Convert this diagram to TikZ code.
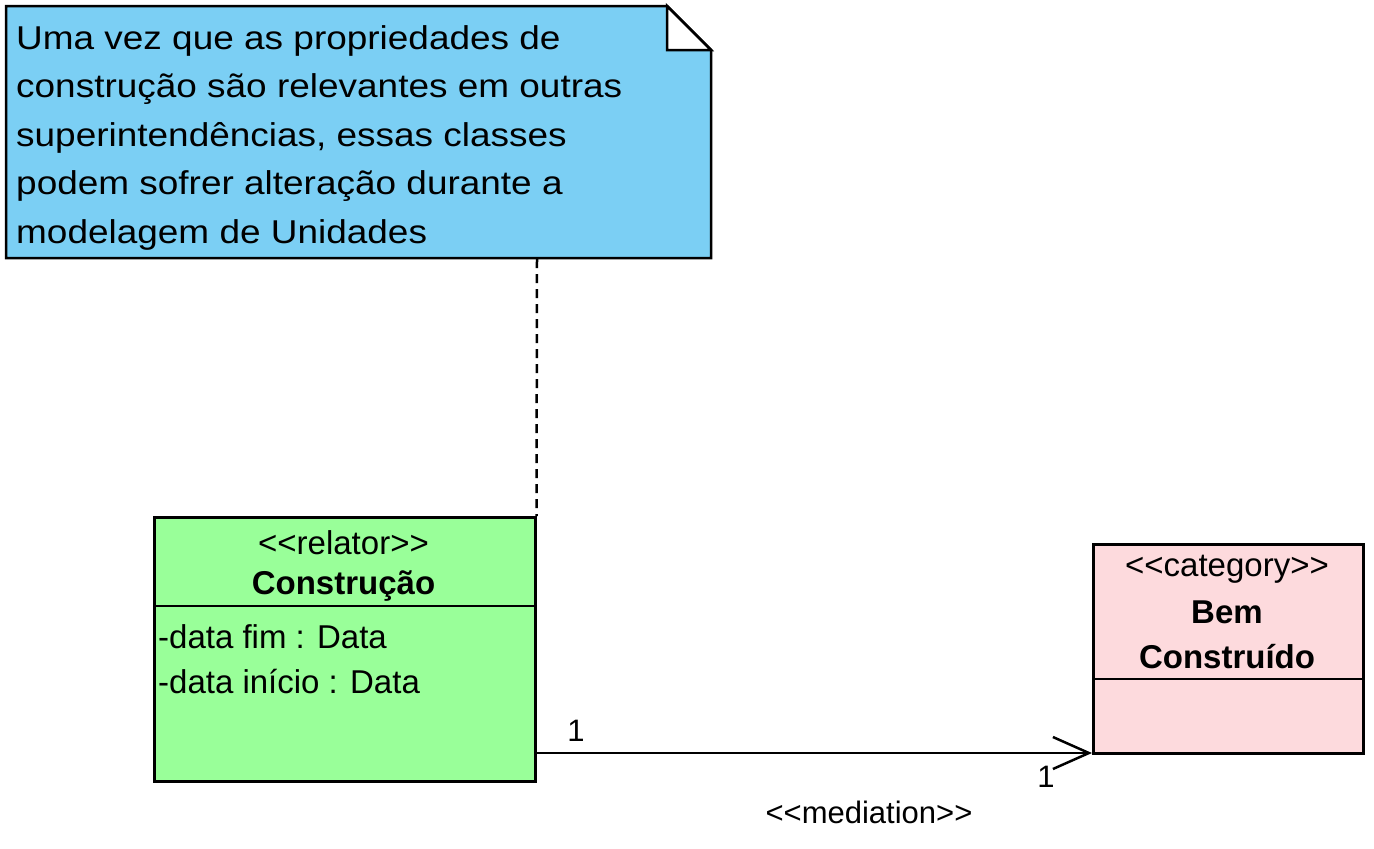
\documentclass[tikz,border=0pt]{standalone}
\usepackage{fontspec}
\setmainfont{Liberation Sans}
\newfontfamily\notefont[FakeStretch=1.12]{Liberation Sans}
\usetikzlibrary{arrows.meta}
\definecolor{noteblue}{HTML}{7BCFF4}
\definecolor{relgreen}{HTML}{99FF99}
\definecolor{catpink}{HTML}{FDDADD}
\newcommand{\llt}{<\kern0pt<}
\newcommand{\ggt}{>\kern0pt>}
\tikzset{
  umlbox/.style={draw=black, line width=2.5pt, inner sep=0pt, anchor=north west},
  ctext/.style={font=\fontsize{33}{40}\selectfont, inner sep=0pt, anchor=center},
  atext/.style={font=\fontsize{33}{40}\selectfont, inner sep=0pt, anchor=west},
  btext/.style={font=\fontsize{33}{40}\selectfont\bfseries, inner sep=0pt, anchor=center},
  ntext/.style={font=\notefont\fontsize{33}{48.5}\selectfont, inner sep=0pt, anchor=north west, align=left},
  conn/.style={line width=2.5pt},
}
\begin{document}
\begin{tikzpicture}[x=1pt,y=-1pt]
\useasboundingbox (0,0) rectangle (1374,849);
% note
\draw[line width=2.5pt, fill=noteblue, line join=miter]
  (6,6) -- (667,6) -- (711,50) -- (711,258) -- (6,258) -- cycle;
\draw[line width=2.5pt, fill=white, line join=miter] (667,6) -- (667,50) -- (711,50) -- cycle;
\node[inner sep=0pt, minimum width=705pt, minimum height=252pt, anchor=north west] (note) at (6,6) {};
\node[ntext] (notetxt) at (16,25) {Uma vez que as propriedades de\\construção são relevantes em outras\\superintendências, essas classes\\podem sofrer alteração durante a\\modelagem de Unidades};
% Construcao class
\node[umlbox, fill=relgreen, minimum width=381pt, minimum height=264pt] (constr) at (153,516) {};
\draw[line width=2.5pt] (153,606) -- (534,606);
\node[ctext] (constrst) at (343.5,543) {\llt relator\ggt};
\node[btext] (constrname) at (343.5,586) {Construção};
\node[atext] (attr1) at (158,637) {-data fim : Data};
\node[atext] (attr2) at (158,682) {-data início : Data};
% Bem Construido class
\node[umlbox, fill=catpink, minimum width=270pt, minimum height=209pt] (bem) at (1092,543) {};
\draw[line width=2.5pt] (1092,679) -- (1362,679);
\node[ctext] (bemst) at (1227,569) {\llt category\ggt};
\node[btext] (bemname1) at (1227,612) {Bem};
\node[btext] (bemname2) at (1227,657) {Construído};
% note link
\coordinate (notefoot) at (537,259);
\draw[conn, dash pattern=on 9pt off 6pt] (notefoot) -- (constr.north east);
% mediation
\coordinate (medstart) at (537,753);
\draw[conn, -{Straight Barb[length=36pt, width=32pt, line width=2.5pt]}] (medstart) -- (medstart -| bem.west);
\node[ctext, font=\fontsize{31}{36}\selectfont] (m1) at (576,731) {1};
\node[ctext, font=\fontsize{31}{36}\selectfont] (m2) at (1046,777) {1};
\node[ctext, font=\fontsize{31}{36}\selectfont] (medlbl) at (869,812) {\llt mediation\ggt};
\end{tikzpicture}
\end{document}
